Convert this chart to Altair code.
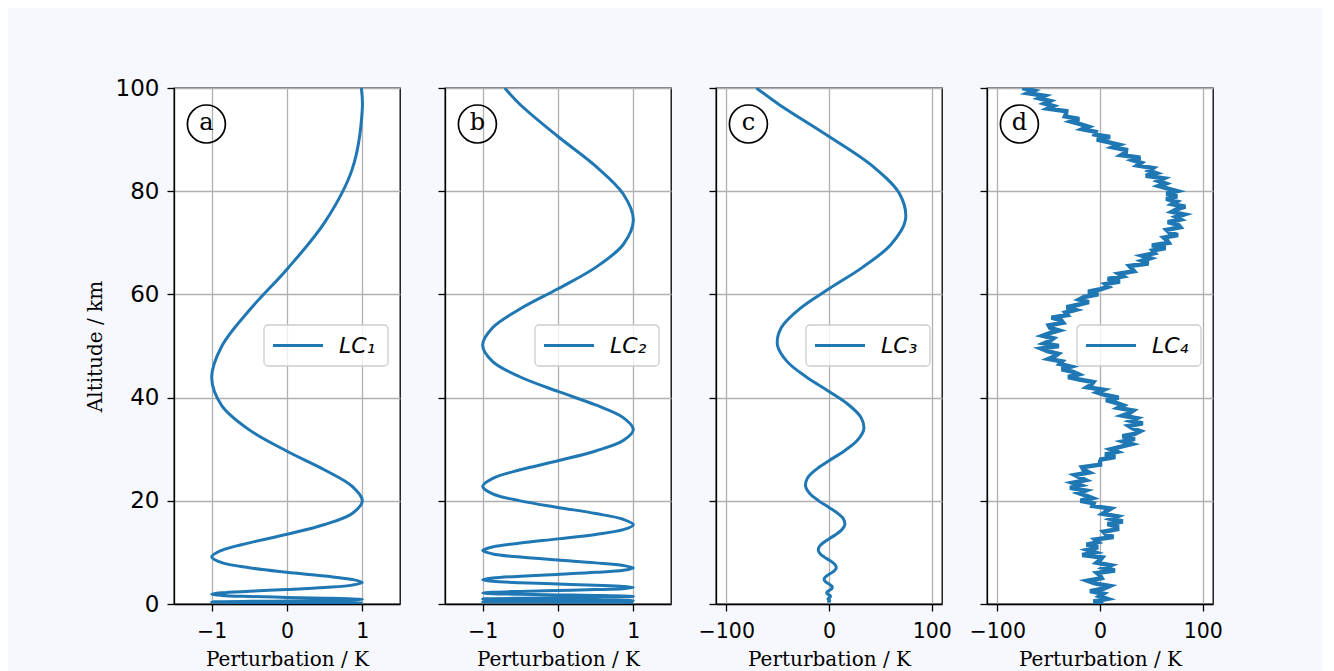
import altair as alt
import pandas as pd

# ---------------- data ----------------
# Panel a
alt_a = [0.18, 0.21, 0.23, 0.27, 0.30, 0.35, 0.40, 0.45, 0.51, 0.58,
         0.67, 0.76, 0.87, 0.99, 1.13, 1.28, 1.46, 1.67, 1.90, 2.17,
         2.47, 2.81, 3.21, 3.66, 4.17, 4.75, 5.41, 6.16, 7.03, 8.01,
         9.13, 10.40, 11.85, 13.51, 15.40, 17.55, 20.0, 22.79, 25.98, 29.61,
         33.74, 38.46, 43.83, 49.95, 56.93, 64.88, 73.95, 84.28, 96.05, 100.0]
pert_a = [1, 0.866, 0.5, 0, -0.5, -0.866, -1, -0.866, -0.5, 0,
          0.5, 0.866, 1, 0.866, 0.5, 0, -0.5, -0.866, -1, -0.866,
          -0.5, 0, 0.5, 0.866, 1, 0.866, 0.5, 0, -0.5, -0.866,
          -1, -0.866, -0.5, 0, 0.5, 0.866, 1, 0.866, 0.5, 0,
          -0.5, -0.866, -1, -0.866, -0.5, 0, 0.5, 0.866, 1, 0.987]

# Panels b and c share the same altitude samples
alt_b = [0.30, 0.32, 0.34, 0.36, 0.39, 0.41, 0.44, 0.47, 0.50, 0.54, 0.58, 0.61,
         0.66, 0.70, 0.75, 0.80, 0.85, 0.91, 0.97, 1.04, 1.11, 1.19, 1.27, 1.35,
         1.44, 1.54, 1.65, 1.76, 1.88, 2.00, 2.14, 2.29, 2.44, 2.61, 2.79, 2.97,
         3.18, 3.39, 3.62, 3.87, 4.13, 4.41, 4.71, 5.03, 5.37, 5.74, 6.13, 6.54,
         6.99, 7.46, 7.97, 8.51, 9.09, 9.70, 10.36, 11.07, 11.82, 12.62, 13.48, 14.40,
         15.37, 16.42, 17.53, 18.72, 19.99, 21.35, 22.80, 24.35, 26.01, 27.77, 29.66, 31.67,
         33.82, 36.12, 38.57, 41.19, 43.99, 46.97, 50.16, 53.57, 57.21, 61.09, 65.24, 69.67,
         74.4, 79.45, 84.85, 90.6, 96.76, 100.0]
pert_b = [1, 0.866, 0.5, 0, -0.5, -0.866, -1, -0.866, -0.5, 0, 0.5, 0.866,
          1, 0.866, 0.5, 0, -0.5, -0.866, -1, -0.866, -0.5, 0, 0.5, 0.866,
          1, 0.866, 0.5, 0, -0.5, -0.866, -1, -0.866, -0.5, 0, 0.5, 0.866,
          1, 0.866, 0.5, 0, -0.5, -0.866, -1, -0.866, -0.5, 0, 0.5, 0.866,
          1, 0.866, 0.5, 0, -0.5, -0.866, -1, -0.866, -0.5, 0, 0.5, 0.866,
          1, 0.866, 0.5, 0, -0.5, -0.866, -1, -0.866, -0.5, 0, 0.5, 0.866,
          1, 0.866, 0.5, 0, -0.5, -0.866, -1, -0.866, -0.5, 0, 0.5, 0.866,
          1, 0.866, 0.5, 0, -0.5, -0.707]
pert_c = [0.30, 0.28, 0.17, 0, -0.20, -0.36, -0.44, -0.41, -0.25, 0, 0.29, 0.53,
          0.66, 0.61, 0.38, 0, -0.43, -0.79, -0.97, -0.90, -0.56, 0, 0.64, 1.17,
          1.44, 1.33, 0.83, 0, -0.94, -1.73, -2.14, -1.98, -1.22, 0, 1.40, 2.57,
          3.18, 2.94, 1.81, 0, -2.07, -3.82, -4.71, -4.36, -2.69, 0, 3.07, 5.66,
          6.99, 6.46, 3.99, 0, -4.55, -8.40, -10.36, -9.59, -5.91, 0, 6.74, 12.47,
          15.37, 14.22, 8.77, 0, -10.0, -18.49, -22.80, -21.09, -13.01, 0, 14.83, 27.43,
          33.82, 31.28, 19.29, 0, -22.0, -40.68, -50.16, -46.39, -28.61, 0, 32.62, 60.33,
          74.4, 68.80, 42.43, 0, -48.38, -70.7]

# Panel d (noisy profile)
alt_d = [0.0, 0.5, 1.0, 1.5, 2.0, 2.5, 3.0, 3.5, 4.0, 4.5, 5.0, 5.5, 6.0, 6.5, 7.0, 7.5, 8.0, 8.5, 9.0, 9.5,
         10.0, 10.5, 11.0, 11.5, 12.0, 12.5, 13.0, 13.5, 14.0, 14.5, 15.0, 15.5, 16.0, 16.5, 17.0, 17.5, 18.0, 18.5, 19.0, 19.5,
         20.0, 20.5, 21.0, 21.5, 22.0, 22.5, 23.0, 23.5, 24.0, 24.5, 25.0, 25.5, 26.0, 26.5, 27.0, 27.5, 28.0, 28.5, 29.0, 29.5,
         30.0, 30.5, 31.0, 31.5, 32.0, 32.5, 33.0, 33.5, 34.0, 34.5, 35.0, 35.5, 36.0, 36.5, 37.0, 37.5, 38.0, 38.5, 39.0, 39.5,
         40.0, 40.5, 41.0, 41.5, 42.0, 42.5, 43.0, 43.5, 44.0, 44.5, 45.0, 45.5, 46.0, 46.5, 47.0, 47.5, 48.0, 48.5, 49.0, 49.5,
         50.0, 50.5, 51.0, 51.5, 52.0, 52.5, 53.0, 53.5, 54.0, 54.5, 55.0, 55.5, 56.0, 56.5, 57.0, 57.5, 58.0, 58.5, 59.0, 59.5,
         60.0, 60.5, 61.0, 61.5, 62.0, 62.5, 63.0, 63.5, 64.0, 64.5, 65.0, 65.5, 66.0, 66.5, 67.0, 67.5, 68.0, 68.5, 69.0, 69.5,
         70.0, 70.5, 71.0, 71.5, 72.0, 72.5, 73.0, 73.5, 74.0, 74.5, 75.0, 75.5, 76.0, 76.5, 77.0, 77.5, 78.0, 78.5, 79.0, 79.5,
         80.0, 80.5, 81.0, 81.5, 82.0, 82.5, 83.0, 83.5, 84.0, 84.5, 85.0, 85.5, 86.0, 86.5, 87.0, 87.5, 88.0, 88.5, 89.0, 89.5,
         90.0, 90.5, 91.0, 91.5, 92.0, 92.5, 93.0, 93.5, 94.0, 94.5, 95.0, 95.5, 96.0, 96.5, 97.0, 97.5, 98.0, 98.5, 99.0, 99.5,
         100.0]
pert_d = [3.0, -6.3, 7.0, -0.6, 3.3, -9.8, 3.7, 9.5, -5.1, -12.2,
          1.6, 0.2, -2.9, 14.5, 4.0, 10.3, -3.2, 0.0, 2.1, -17.3,
          -4.6, -12.3, -1.8, -13.2, -1.7, -4.8, 13.1, 5.7, 3.3, 16.8,
          16.7, 7.3, 22.2, 10.7, 16.8, 2.6, 6.5, 10.6, -7.3, -6.2,
          -19.1, -7.4, -13.7, -21.0, -14.1, -29.2, -18.9, -26.6, -14.0, -19.4,
          -24.5, -10.8, -16.0, -17.5, 0.1, 0.0, 0.9, 14.9, 4.9, 16.7,
          10.4, 20.7, 30.9, 22.5, 34.0, 21.8, 34.4, 39.3, 32.0, 28.0,
          41.7, 29.8, 35.6, 21.9, 28.9, 32.4, 17.7, 22.6, 15.4, 5.8,
          18.2, 5.3, -2.6, 3.4, -12.6, -8.5, -6.5, -20.3, -31.1, -20.7,
          -26.2, -37.4, -28.5, -39.2, -36.8, -50.0, -44.1, -40.7, -51.2, -57.2,
          -40.0, -54.4, -48.6, -45.3, -55.9, -49.0, -40.0, -48.5, -49.9, -35.9,
          -37.8, -47.3, -31.7, -33.8, -23.9, -32.6, -21.3, -10.8, -20.2, -15.4,
          -1.6, -11.6, 0.4, 8.4, 5.3, 19.4, 7.4, 22.3, 18.2, 33.1,
          30.9, 28.6, 47.2, 40.7, 49.0, 41.2, 53.3, 51.2, 63.9, 50.5,
          66.9, 65.1, 62.2, 75.9, 67.6, 64.9, 78.2, 76.1, 65.9, 78.4,
          73.8, 81.9, 69.9, 74.5, 83.1, 70.3, 74.5, 64.3, 75.2, 64.6,
          75.0, 66.1, 57.1, 63.9, 56.6, 62.0, 44.5, 54.6, 47.7, 51.5,
          36.4, 40.1, 31.8, 39.3, 20.7, 25.1, 25.4, 12.5, 18.7, 7.8,
          -3.1, 9.8, -5.2, -4.2, -17.2, -11.2, -19.2, -28.2, -20.2, -34.1,
          -33.0, -32.8, -50.7, -45.4, -54.1, -48.7, -59.3, -53.8, -70.2, -64.4,
          -75.7]

panel_letters = ["a", "b", "c", "d"]
legend_labels = ["LC\u2081", "LC\u2082", "LC\u2083", "LC\u2084"]
y_ticks = [0, 20, 40, 60, 80, 100]
x_ticks_unit = [-1, 0, 1]
x_ticks_big = [-100, 0, 100]

# ---------------- styling ----------------
BLUE = "#1f77b4"
W, H = 226, 516
dummy = pd.DataFrame({"k": [0]})


def panel(z, p, interp, width, xdom, xticks, letter, label, first):
    df = pd.DataFrame({"z": z, "p": p})
    yargs = dict(values=y_ticks, labelFontSize=23, labelPadding=8, grid=True)
    if first:
        yargs.update(title="Altitude / km", titlePadding=10)
    else:
        yargs.update(labels=False, title="")
    line = alt.Chart(df).mark_line(
        color=BLUE, strokeWidth=width, interpolate=interp, clip=True
    ).encode(
        x=alt.X("p:Q", scale=alt.Scale(domain=xdom, nice=False, zero=False),
                axis=alt.Axis(values=xticks, title="Perturbation / K",
                              labelFontSize=20.5, labelPadding=10,
                              titlePadding=8, grid=True)),
        y=alt.Y("z:Q", scale=alt.Scale(domain=[0, 100], nice=False),
                axis=alt.Axis(**yargs)),
        order=alt.Order("z:Q"),
    )
    ring = alt.Chart(dummy).mark_point(
        shape="circle", size=1444, filled=False, color="black",
        strokeWidth=1.7, opacity=1
    ).encode(x=alt.value(32.4), y=alt.value(36))
    letter_t = alt.Chart(dummy).mark_text(
        text=letter, font="DejaVu Serif", fontSize=24, color="black",
        align="center", baseline="middle"
    ).encode(x=alt.value(32.4), y=alt.value(35))
    box = alt.Chart(dummy).mark_rect(
        fill="white", fillOpacity=0.8, stroke="#cccccc", strokeWidth=1.3,
        cornerRadius=4
    ).encode(x=alt.value(90), x2=alt.value(214), y=alt.value(237), y2=alt.value(278))
    key = alt.Chart(dummy).mark_rule(color=BLUE, strokeWidth=3).encode(
        x=alt.value(99), x2=alt.value(149), y=alt.value(257.5))
    key_t = alt.Chart(dummy).mark_text(
        text=label, font="DejaVu Sans", fontStyle="italic", fontSize=22,
        color="black", align="left", baseline="middle"
    ).encode(x=alt.value(165), y=alt.value(257.5))
    return alt.layer(line, ring, letter_t, box, key, key_t).properties(width=W, height=H)


pa = panel(alt_a, pert_a, "catmull-rom", 3, [-1.5, 1.5], x_ticks_unit,
           panel_letters[0], legend_labels[0], True)
pb = panel(alt_b, pert_b, "catmull-rom", 3, [-1.5, 1.5], x_ticks_unit,
           panel_letters[1], legend_labels[1], False)
pc = panel(alt_b, pert_c, "catmull-rom", 3, [-110, 110], x_ticks_big,
           panel_letters[2], legend_labels[2], False)
pd_ = panel(alt_d, pert_d, "linear", 4.5, [-110, 110], x_ticks_big,
            panel_letters[3], legend_labels[3], False)

chart = alt.hconcat(pa, pb, pc, pd_, spacing=45, bounds="flush").properties(
    padding={"left": 76, "top": 68, "right": 100, "bottom": 0},
    background="#f7f8fd",
).configure_view(
    fill="white", stroke="black", strokeWidth=1.3
).configure_axis(
    domainColor="black", domainWidth=1.3,
    tickColor="black", tickWidth=1.3, tickSize=7,
    gridColor="#b0b0b0", gridWidth=1.3,
    labelFont="DejaVu Sans", labelColor="black",
    titleFont="DejaVu Serif", titleColor="black",
    titleFontWeight="normal", titleFontSize=20,
)

chart.save("out.html", embed_options={"renderer": "svg", "actions": False})
